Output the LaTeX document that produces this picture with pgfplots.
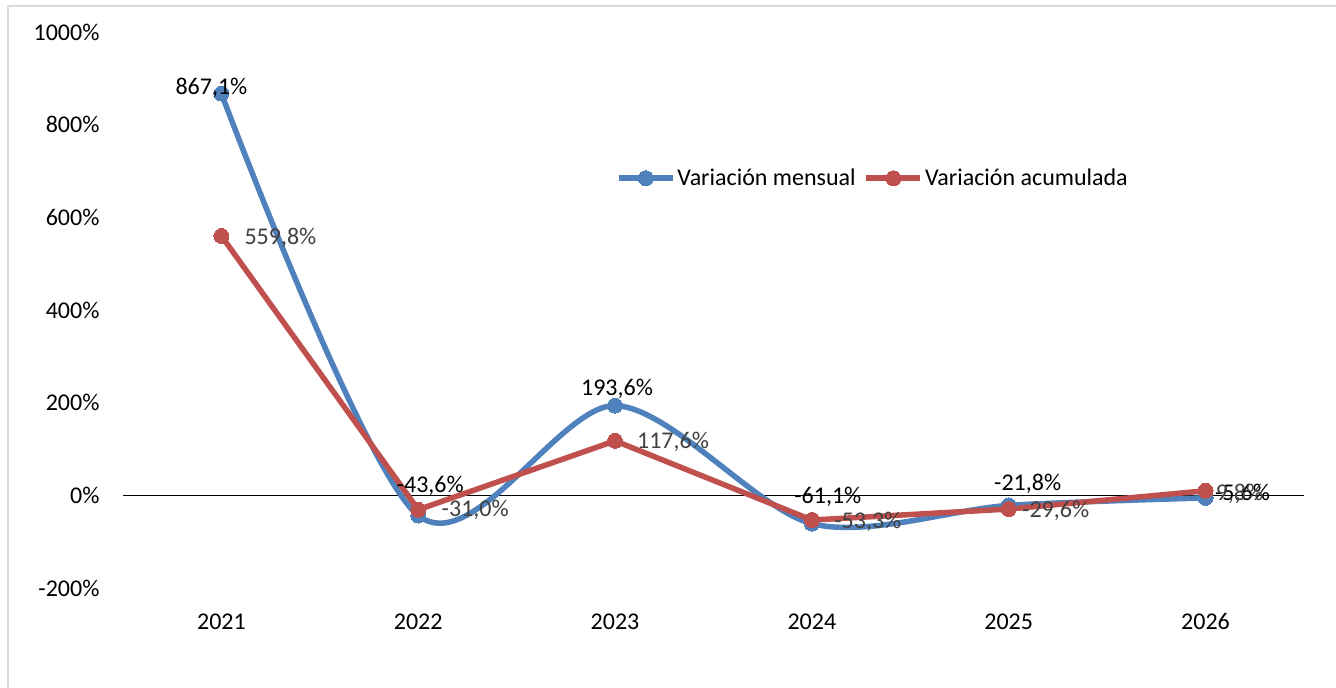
\documentclass[border=0pt]{standalone}
\usepackage{pgfplots}
\pgfplotsset{compat=1.18}
\usepackage{pgfplotstable}
\usepackage{fontspec}
\setmainfont{Carlito}
\definecolor{cblue}{RGB}{79,129,189}
\definecolor{cred}{RGB}{192,80,77}
\definecolor{lblgray}{RGB}{64,64,64}

\pgfplotstableread{
x y dx dy
0 867.1 -10 6
1 -43.6 12 30
2 193.6 2 17
3 -61.1 16 27
4 -21.8 19 22
5 -5.6 37 4
}\mensual

\pgfplotstableread{
x y dx dy
0 559.8 59 -2
1 -31.0 57 0
2 117.6 58 -1
3 -53.3 56 -2
4 -29.6 47 -2
5 9.8 34 -3
}\acumulada

\begin{document}
\begin{tikzpicture}[font=\fontsize{24}{28}\selectfont]
\useasboundingbox (0pt,0pt) rectangle (1336pt,688pt);
\fill[white] (0pt,0pt) rectangle (1336pt,688pt);
\draw[black!15, line width=1.5pt] (8pt,-5pt) -- (8pt,682pt) -- (1345pt,682pt);
\begin{axis}[
  at={(123pt,100pt)}, anchor=south west,
  scale only axis,
  width=1181pt, height=556pt,
  xmin=-0.5, xmax=5.5,
  ymin=-200, ymax=1000,
  xtick={0,1,2,3,4,5},
  xticklabels={2021,2022,2023,2024,2025,2026},
  ytick={-200,0,200,400,600,800,1000},
  yticklabel={\pgfmathprintnumber[fixed,precision=0,1000 sep={},assume math mode=true]{\tick}\%},
  axis line style={draw=none},
  major tick length=0pt,
  yticklabel style={anchor=east, xshift=-20pt},
  xticklabel style={anchor=north, yshift=-22pt},
  extra y ticks={0},
  extra y tick labels={},
  extra y tick style={grid=major, major grid style={black, line width=1.5pt}},
  clip=false,
  legend style={at={(0.635,0.737)}, anchor=center, draw=none, fill=none,
    legend columns=2, font=\fontsize{24}{28}\selectfont,
    /tikz/every even column/.append style={column sep=6pt}},
  legend image code/.code={\draw[mark repeat=2,mark phase=2] plot coordinates {(0pt,0pt) (27pt,0pt) (54pt,0pt)};},
]
\addplot[cblue, line width=5.5pt, smooth, tension=0.5, mark=*, mark size=7.5pt,
  mark options={solid, fill=cblue, draw=cblue, line width=0pt},
  visualization depends on={\thisrow{dx} \as \dx},
  visualization depends on={\thisrow{dy} \as \dy},
  nodes near coords={\pgfmathprintnumber[fixed,fixed zerofill,precision=1,use comma,assume math mode=true]{\pgfplotspointmeta}\%},
  nodes near coords style={anchor=center, xshift={\dx*1pt}, yshift={\dy*1pt}, text=black, font=\fontsize{24}{28}\selectfont}]
  table[x=x, y=y] {\mensual};
\addlegendentry{Variación mensual}
\addplot[cred, line width=5.5pt, mark=*, mark size=7.5pt,
  mark options={solid, fill=cred, draw=cred, line width=0pt},
  visualization depends on={\thisrow{dx} \as \dx},
  visualization depends on={\thisrow{dy} \as \dy},
  nodes near coords={\pgfmathprintnumber[fixed,fixed zerofill,precision=1,use comma,assume math mode=true]{\pgfplotspointmeta}\%},
  nodes near coords style={anchor=center, xshift={\dx*1pt}, yshift={\dy*1pt}, text=lblgray, font=\fontsize{24}{28}\selectfont}]
  table[x=x, y=y] {\acumulada};
\addlegendentry{Variación acumulada}
\end{axis}
\end{tikzpicture}
\end{document}
